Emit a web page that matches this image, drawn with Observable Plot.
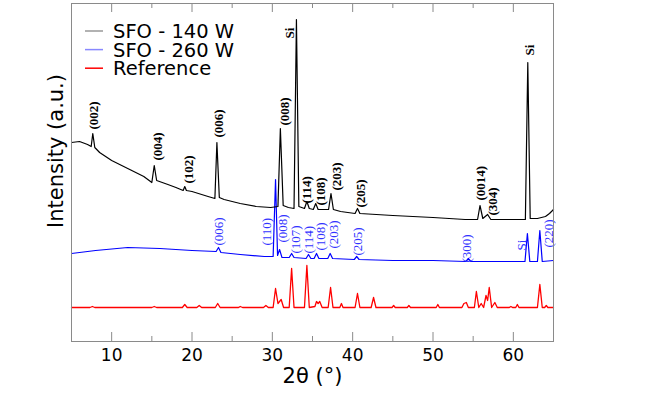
<!DOCTYPE html>
<html>
<head>
<meta charset="utf-8">
<script src="https://cdn.jsdelivr.net/npm/d3@7"></script>
<script src="https://cdn.jsdelivr.net/npm/@observablehq/plot@0.6"></script>
<style>
  html, body { margin: 0; padding: 0; background: #fff; }
  #chart { width: 664px; height: 398px; }
</style>
</head>
<body>
<div id="chart"></div>
<script>
// ---- Data (2θ in degrees, intensity in arbitrary units) ----
const blackTheta = [5.0,6.0,7.0,7.45,7.65,7.9,8.5,10.0,12.0,14.0,15.0,15.3,15.6,17.0,18.0,18.9,19.1,19.3,20.0,22.0,22.85,23.1,23.4,24.0,26.0,28.0,29.8,30.7,31.0,31.35,32.0,32.7,33.0,33.3,34.0,34.3,34.6,35.1,35.4,35.7,37.0,37.3,37.6,38.5,40.3,40.6,40.9,45.0,50.0,54.0,55.55,55.85,56.2,56.8,57.2,60.0,61.5,61.8,62.1,63.0,64.0,64.5,65.0];
const blackIntensity = [199,200,197,195,208,194,189,181,173,165,159,176,161,157,154,151,155,151,150,145,143,199,144,142,138,135,134,135,213,136,134,133,322,135,133,140,133,132,138,132,132,148,132,130,128,133,128,126,124,122,122,136,123,127,122,122,122,279,123,123,125,128,132];

const blueTheta = [5.0,8.0,12.0,16.0,20.0,23.0,23.3,23.6,26.0,29.0,30.1,30.4,30.65,30.9,31.2,32.1,32.4,32.7,34.2,34.5,34.8,35.2,35.5,35.8,36.9,37.2,37.5,40.2,40.5,40.8,45.0,50.0,54.1,54.4,54.7,58.0,61.45,61.75,62.05,63.0,63.3,63.6,65.0];
const blueIntensity = [88,91,94,93,91,90,94,89,87,85,85,162,86,92,84,84,88,84,83,87,83,83,88,83,83,88,83,82,85,82,81,81,80,83,80,80,80,108,80,80,111,80,81];

const redTheta = [5.0,7.3,7.6,7.9,15.0,15.3,15.6,18.8,19.1,19.4,20.6,20.9,21.2,22.9,23.2,23.5,25.8,26.0,26.3,28.9,29.2,29.5,30.1,30.4,30.7,31.1,31.4,32.1,32.4,32.7,34.0,34.3,34.6,35.3,35.5,35.7,35.9,36.2,36.95,37.25,37.55,38.4,38.6,38.8,40.3,40.6,40.9,42.3,42.6,42.9,44.9,45.1,45.3,46.8,47.0,47.2,50.4,50.6,50.8,53.6,53.85,54.15,54.4,55.15,55.4,55.7,56.0,56.3,56.6,56.8,57.0,57.3,57.7,58.0,59.5,59.7,59.9,60.3,60.5,60.7,63.0,63.3,63.6,63.9,64.1,64.3,65.0];
const redIntensity = [34,34,35,34,34,35,34,34,37,34,34,36,34,34,38,34,34,35,34,34,36,34,34,53,38,42,34,34,73,34,34,76,34,35,40,38,40,34,34,54,34,34,38,34,34,48,34,34,44,34,34,36,34,34,36,34,34,37,34,34,38,39,34,34,50,34,38,34,46,41,54,34,39,34,34,35,34,34,37,34,34,57,34,34,36,34,34];

// Peak annotations: label, 2θ of label, intensity where label starts
const blackLabels = ["(002)","(004)","(102)","(006)","(008)","Si","(114)","(108)","(203)","(205)","(0014)","(304)","Si"];
const blackLabelTheta = [7.74,15.8,19.6,23.4,31.5,32.14,34.25,36.08,38.07,40.98,55.9,57.4,62.0];
const blackLabelIntensity = [212,181,158,204,216,303,138,136,151,134,141,126,286];

const blueLabels = ["(006)","(110)","(008)","(107)","(114)","(108)","(203)","(205)","(300)","Si","(220)"];
const blueLabelTheta = [23.3,29.36,31.27,32.9,34.5,36.0,37.6,40.6,54.17,61.1,64.4];
const blueLabelIntensity = [96,96,99,88,88,91,93,86,79,91,94];

const majorTicks = [10,20,30,40,50,60];
const minorTicks = [15,25,35,45,55];

const seriesNames = ["SFO - 140 W","SFO - 260 W","Reference"];
const xTitle = "2θ (°)";
const yTitle = "Intensity (a.u.)";

// ---- Build tables ----
const toRows = (xs, ys) => xs.map((x, i) => ({theta: x, intensity: ys[i]}));
const blackData = toRows(blackTheta, blackIntensity);
const blueData = toRows(blueTheta, blueIntensity);
const redData = toRows(redTheta, redIntensity);
const toLabels = (ls, xs, ys) => ls.map((l, i) => ({label: l, theta: xs[i], intensity: ys[i]}));
const blackLab = toLabels(blackLabels, blackLabelTheta, blackLabelIntensity);
const blueLab = toLabels(blueLabels, blueLabelTheta, blueLabelIntensity);

const H = 398, MT = 3, MB = 57;
const inner = H - MT - MB;
const frameColor = "#8a8a8a";

const chart = Plot.plot({
  width: 664,
  height: H,
  marginLeft: 71,
  marginRight: 111,
  marginTop: MT,
  marginBottom: MB,
  style: {fontFamily: "DejaVu Sans", background: "white", color: "black"},
  x: {domain: [5, 65]},
  y: {domain: [0, 338], axis: null},
  marks: [
    Plot.ruleX(majorTicks, {insetTop: inner - 9, stroke: frameColor}),
    Plot.ruleX(majorTicks, {insetBottom: inner - 9, stroke: frameColor}),
    Plot.ruleX(minorTicks, {insetTop: inner - 5, stroke: frameColor}),
    Plot.ruleX(minorTicks, {insetBottom: inner - 5, stroke: frameColor}),
    Plot.axisX({ticks: majorTicks, tickSize: 0, tickPadding: 7, fontSize: 17, label: null, tickFormat: d => String(d)}),
    Plot.line(redData, {x: "theta", y: "intensity", stroke: "#ff0000", strokeWidth: 1.3}),
    Plot.line(blueData, {x: "theta", y: "intensity", stroke: "#0000ff", strokeWidth: 1.2}),
    Plot.line(blackData, {x: "theta", y: "intensity", stroke: "#000000", strokeWidth: 1.2}),
    Plot.text(blackLab, {x: "theta", y: "intensity", text: "label", rotate: -90, textAnchor: "start",
      fontFamily: "Liberation Serif", fontWeight: "bold", fontSize: 13, fill: "black"}),
    Plot.text(blueLab, {x: "theta", y: "intensity", text: "label", rotate: -90, textAnchor: "start",
      fontFamily: "Liberation Serif", fontSize: 13, fill: "#3333ff"}),
    Plot.frame({stroke: frameColor}),
    Plot.text([xTitle], {frameAnchor: "bottom", dy: 41, fontSize: 21, fill: "black"})
  ]
});

document.getElementById("chart").appendChild(chart);

const svg = d3.select(chart);

// ---- Y axis title ----
svg.append("text")
  .attr("transform", "translate(55,151) rotate(-90)")
  .attr("text-anchor", "middle")
  .attr("dy", "0.36em")
  .attr("font-family", "DejaVu Sans")
  .attr("font-size", 21)
  .attr("fill", "black")
  .text(yTitle);

// ---- Legend (inside plot, top-left) ----
const legendColors = ["#999999", "#8888ff", "#ff0000"];
const lg = svg.append("g").attr("font-family", "DejaVu Sans").attr("font-size", 19.5).attr("text-anchor", "start");
seriesNames.forEach((name, i) => {
  const cy = 31 + i * 18.6;
  lg.append("line").attr("x1", 85).attr("x2", 103).attr("y1", cy).attr("y2", cy)
    .attr("stroke", legendColors[i]).attr("stroke-width", 1.5);
  lg.append("text").attr("x", 113).attr("y", cy).attr("dy", "0.36em").attr("fill", "black").text(name);
});
</script>
</body>
</html>
